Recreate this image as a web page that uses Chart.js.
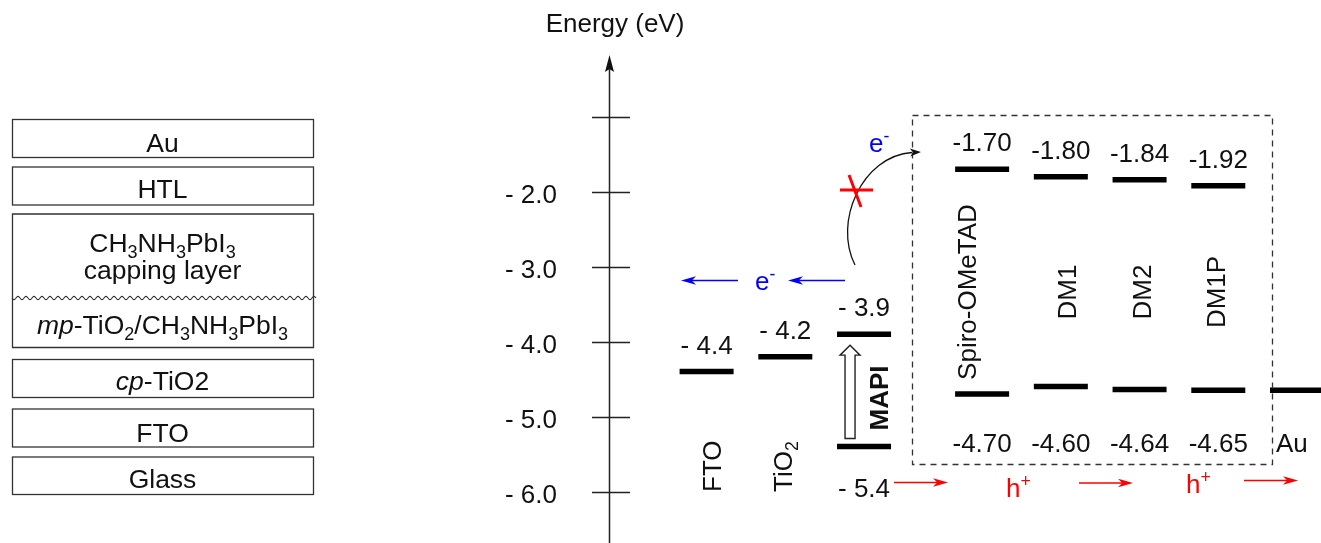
<!DOCTYPE html>
<html><head><meta charset="utf-8">
<script src="https://cdn.jsdelivr.net/npm/chart.js@4"></script>
<style>html,body{margin:0;padding:0;background:#fff;overflow:hidden}#wrap{width:1321px;height:543px}</style>
</head><body><div id="wrap"><canvas id="c" width="1321" height="543"></canvas></div>
<script>
// ---------------- data ----------------
const categories   = ['FTO','TiO2','MAPI','Spiro-OMeTAD','DM1','DM2','DM1P','Au'];
const nameLabels   = ['FTO','TiO_2','MAPI','Spiro-OMeTAD','DM1','DM2','DM1P',''];
const upperLevels  = [-4.4, -4.2, -3.9, -1.70, -1.80, -1.84, -1.92, null];
const lowerLevels  = [null, null, -5.4, -4.70, -4.60, -4.64, -4.65, -4.65];
const upperLabels  = ['- 4.4','- 4.2','- 3.9','-1.70','-1.80','-1.84','-1.92',''];
const lowerLabels  = ['','','- 5.4','-4.70','-4.60','-4.64','-4.65','Au'];
const tickValues   = [-1, -2, -3, -4, -5, -6];
const tickLabels   = ['', '- 2.0', '- 3.0', '- 4.0', '- 5.0', '- 6.0'];
const axisTitle    = 'Energy (eV)';
const deviceLayers = ['Au','HTL','CH_3NH_3PbI_3|capping layer','*mp*-TiO_2/CH_3NH_3PbI_3','*cp*-TiO2','FTO','Glass'];
const electronLabel = 'e^-';
const holeLabel     = 'h^+';

// ---------------- layout (category slots on the x axis, spacers between groups) ----------------
const SLOT = [0, 2, 4, 7, 9, 11, 13, 15];
const NSLOT = 16;
const slotLabels = Array.from({length:NSLOT}, ()=>'');
SLOT.forEach((s,i)=>{ slotLabels[s]=categories[i]; });
function toSlots(arr){ const out=Array.from({length:NSLOT}, ()=>null); SLOT.forEach((s,i)=>{ out[s]=arr[i]; }); return out; }

// ---------------- helpers ----------------
const FONT = '"Liberation Sans", Arial, Helvetica, sans-serif';
const FS = 26;
function font(size, bold, italic){ return (italic?'italic ':'')+(bold?'bold ':'')+size+'px '+FONT; }
function parseRich(str){
  const parts=[]; let ital=false; let buf='';
  const flush=()=>{ if(buf){parts.push({t:buf,i:ital}); buf='';} };
  for(let k=0;k<str.length;k++){
    const ch=str[k];
    if(ch==='*'){ flush(); ital=!ital; }
    else if(ch==='_'){ flush(); parts.push({t:str[++k],i:ital,sub:true}); }
    else if(ch==='^'){ flush(); parts.push({t:str[++k],i:ital,sup:true}); }
    else buf+=ch;
  }
  flush(); return parts;
}
function richWidth(ctx, parts, size, bold){
  let w=0;
  for(const p of parts){ const s=(p.sub||p.sup)?size*0.68:size; ctx.font=font(s,bold,p.i); w+=ctx.measureText(p.t).width; }
  return w;
}
function drawRich(ctx, str, x, y, size, align, color, bold){
  const parts=parseRich(str);
  const w=richWidth(ctx, parts, size, bold);
  let cx = align==='center'? x-w/2 : (align==='right'? x-w : x);
  ctx.fillStyle=color; ctx.textBaseline='alphabetic'; ctx.textAlign='left';
  for(const p of parts){
    const s=(p.sub||p.sup)?size*0.68:size;
    ctx.font=font(s,bold,p.i);
    const dy=p.sub?size*0.24:(p.sup?-size*0.40:0);
    ctx.fillText(p.t, cx, y+dy);
    cx+=ctx.measureText(p.t).width;
  }
}
function drawRotated(ctx, str, x, y, size, align, color, bold){
  ctx.save(); ctx.translate(x,y); ctx.rotate(-Math.PI/2);
  drawRich(ctx, str, 0, size*0.36, size, align, color, bold);
  ctx.restore();
}
function arrowHead(ctx, x, y, ang, len, hw, color){
  ctx.save(); ctx.translate(x,y); ctx.rotate(ang);
  ctx.fillStyle=color; ctx.beginPath();
  ctx.moveTo(0,0); ctx.lineTo(-len,-hw); ctx.lineTo(-len*0.72,0); ctx.lineTo(-len,hw); ctx.closePath(); ctx.fill();
  ctx.restore();
}
function arrow(ctx, x1,y1,x2,y2,color,lw,len,hw){
  const ang=Math.atan2(y2-y1,x2-x1);
  ctx.save(); ctx.strokeStyle=color; ctx.lineWidth=lw; ctx.beginPath();
  ctx.moveTo(x1,y1); ctx.lineTo(x2-Math.cos(ang)*len*0.7, y2-Math.sin(ang)*len*0.7); ctx.stroke(); ctx.restore();
  arrowHead(ctx,x2,y2,ang,len,hw,color);
}

// ---------------- overlay plugin ----------------
const overlay = {
  id:'overlay',
  beforeDraw(chart){ const c=chart.ctx; c.save(); c.fillStyle='#fff'; c.fillRect(0,0,chart.width,chart.height); c.restore(); },
  afterDatasetsDraw(chart){
    const ctx=chart.ctx, xs=chart.scales.x, ys=chart.scales.y;
    const X=i=>xs.getPixelForValue(SLOT[i]), Y=v=>ys.getPixelForValue(v);
    ctx.save();

    // ---- device stack (left) ----
    const L=12, R=313, cxm=(L+R)/2;
    ctx.strokeStyle='#333'; ctx.lineWidth=1.3;
    const simple=[[119.5,157.5],[167,205],[359.5,397.5],[409,447],[457,494.5]];
    for(const [t,b] of simple){ ctx.strokeRect(L+0.5,t,R-L,b-t); }
    ctx.beginPath(); ctx.moveTo(L+0.5,298); ctx.lineTo(L+0.5,214); ctx.lineTo(R+0.5,214); ctx.lineTo(R+0.5,347.5); ctx.lineTo(L+0.5,347.5); ctx.lineTo(L+0.5,298); ctx.stroke();
    ctx.beginPath(); ctx.lineWidth=1.1;
    for(let x=L; x<=R+3; x+=0.5){ const y=298+1.6*Math.sin((x-L)/8*2*Math.PI); if(x===L) ctx.moveTo(x,y); else ctx.lineTo(x,y); }
    ctx.stroke();
    const layerBase=[152,198,252,334,390,442,488];
    deviceLayers.forEach((s,k)=>{
      const lines=s.split('|');
      lines.forEach((ln,j)=> drawRich(ctx, ln, cxm, layerBase[k]+j*27, 26.5, 'center', '#111', false));
    });

    // ---- energy axis ----
    const ax=609.5;
    ctx.strokeStyle='#222'; ctx.lineWidth=1.5;
    ctx.beginPath(); ctx.moveTo(ax,66); ctx.lineTo(ax,543); ctx.stroke();
    ctx.fillStyle='#111'; ctx.beginPath(); ctx.moveTo(ax,55); ctx.lineTo(ax-4.5,72); ctx.lineTo(ax,69); ctx.lineTo(ax+4.5,72); ctx.closePath(); ctx.fill();
    tickValues.forEach((v,k)=>{
      const y=Math.round(Y(v))+0.5;
      ctx.strokeStyle='#222'; ctx.lineWidth=1.5;
      ctx.beginPath(); ctx.moveTo(592,y); ctx.lineTo(630,y); ctx.stroke();
      if(tickLabels[k]){ ctx.font=font(FS); ctx.fillStyle='#111'; ctx.textAlign='right'; ctx.textBaseline='alphabetic'; ctx.fillText(tickLabels[k],557,y+10); }
    });
    ctx.font=font(FS); ctx.fillStyle='#111'; ctx.textAlign='center'; ctx.textBaseline='alphabetic';
    ctx.fillText(axisTitle,615,32);

    // ---- dashed HTM box ----
    ctx.save(); ctx.setLineDash([6,5]); ctx.strokeStyle='#333'; ctx.lineWidth=1.3;
    ctx.strokeRect(912.5,115.5,360,349); ctx.restore();

    // ---- level labels ----
    upperLevels.forEach((v,i)=>{ if(v!==null && upperLabels[i]) drawRich(ctx, upperLabels[i], X(i), Y(v)-18, FS, 'center', '#111', false); });
    lowerLevels.forEach((v,i)=>{
      if(v===null || !lowerLabels[i]) return;
      if(i===2) drawRich(ctx, lowerLabels[i], X(i), Y(v)+50, FS, 'center', '#111', false);
      else if(i===7) drawRich(ctx, lowerLabels[i], X(i)-21, 452, FS, 'left', '#111', false);
      else drawRich(ctx, lowerLabels[i], X(i), 452, FS, 'center', '#111', false);
    });

    // ---- rotated material names ----
    drawRotated(ctx, nameLabels[0], X(0)+5, 492, FS, 'left', '#111', false);
    drawRotated(ctx, nameLabels[1], X(1)-3, 492, FS, 'left', '#111', false);
    drawRotated(ctx, nameLabels[2], X(2)+15, 398, FS, 'center', '#111', true);
    const nameOff = {3:-15, 4:6, 5:2, 6:-3};
    [3,4,5,6].forEach(i=> drawRotated(ctx, nameLabels[i], X(i)+nameOff[i], 292, FS, 'center', '#111', false));

    // ---- MAPI excitation hollow arrow ----
    const mx=X(2)-14, yb=Y(lowerLevels[2])-8, yt=Y(upperLevels[2])+11;
    ctx.fillStyle='#fff'; ctx.strokeStyle='#222'; ctx.lineWidth=1.4;
    ctx.beginPath(); ctx.moveTo(mx-5,yb); ctx.lineTo(mx-5,yt+10); ctx.lineTo(mx-10,yt+10); ctx.lineTo(mx,yt); ctx.lineTo(mx+10,yt+10); ctx.lineTo(mx+5,yt+10); ctx.lineTo(mx+5,yb); ctx.closePath(); ctx.fill(); ctx.stroke();

    // ---- electron transport arrows (blue) ----
    const blue='#0000ff', red='#ff0000';
    arrow(ctx, 738,280.5, 681,280.5, blue, 1.4, 15, 4.2);
    arrow(ctx, 845,280.5, 788,280.5, blue, 1.4, 15, 4.2);
    drawRich(ctx, electronLabel, 755, 290, FS, 'left', blue, false);

    // ---- blocked electron curved arrow ----
    ctx.strokeStyle='#111'; ctx.lineWidth=1.3;
    ctx.beginPath(); ctx.moveTo(855,265); ctx.bezierCurveTo(833,222, 862,156, 912,152.5); ctx.stroke();
    arrowHead(ctx, 921,152, Math.atan2(-0.5,9), 11, 4, '#111');
    drawRich(ctx, electronLabel, 869, 152, FS, 'left', blue, false);
    ctx.strokeStyle=red; ctx.lineWidth=3;
    ctx.beginPath(); ctx.moveTo(840,190); ctx.lineTo(873,190); ctx.stroke();
    ctx.beginPath(); ctx.moveTo(849,175); ctx.lineTo(861,207); ctx.stroke();

    // ---- hole transport arrows (red) ----
    arrow(ctx, 894,482.5, 948,482.5, red, 1.4, 15, 4.2);
    arrow(ctx, 1079,483, 1133,483, red, 1.4, 15, 4.2);
    arrow(ctx, 1244,480.5, 1298,480.5, red, 1.4, 15, 4.2);
    drawRich(ctx, holeLabel, 1006, 497, FS, 'left', red, false);
    drawRich(ctx, holeLabel, 1186, 493, FS, 'left', red, false);

    ctx.restore();
  }
};

// ---------------- chart ----------------
const levelStyle = { showLine:false, spanGaps:false, pointStyle:'line', pointRadius:27, pointHoverRadius:27, pointBorderWidth:5.5, pointHoverBorderWidth:5.5, pointBorderColor:'#000', pointBackgroundColor:'#000', borderColor:'#000', clip:false };
new Chart(document.getElementById('c'), {
  type:'line',
  data:{ labels:slotLabels, datasets:[
    Object.assign({label:'LUMO / CB / work function', data:toSlots(upperLevels)}, levelStyle),
    Object.assign({label:'HOMO / VB', data:toSlots(lowerLevels)}, levelStyle)
  ]},
  options:{
    responsive:false, animation:false, devicePixelRatio:1, events:[],
    layout:{ autoPadding:false, padding:{ left:706.6, right:24, top:0, bottom:0 } },
    plugins:{ legend:{display:false}, tooltip:{enabled:false}, title:{display:false} },
    scales:{
      x:{ type:'category', display:false, offset:false },
      y:{ type:'linear', display:false, min:-6.687, max:0.559 }
    }
  },
  plugins:[overlay]
});
</script>
</body></html>
